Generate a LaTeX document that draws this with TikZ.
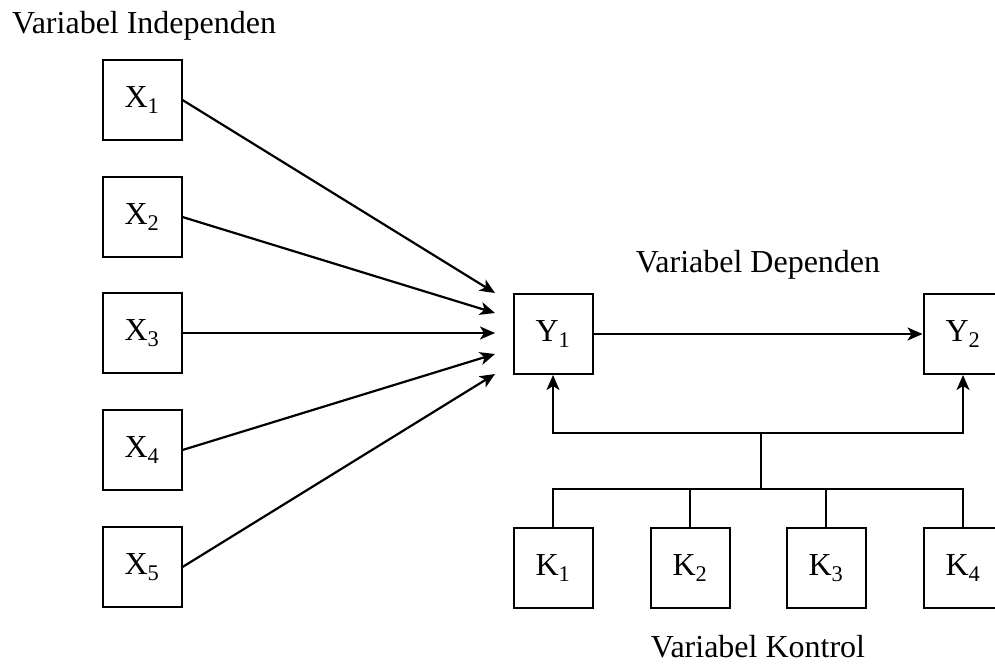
\documentclass[tikz,border=0pt]{standalone}
\usepackage{fontspec}
\setmainfont{Liberation Serif}
\usetikzlibrary{arrows.meta}
\begin{document}
\begin{tikzpicture}[x=1pt,y=-1pt,
    varbox/.style={draw,line width=2pt,minimum width=79pt,minimum height=80pt,inner sep=0pt,font=\fontsize{32}{36}\selectfont},
    link/.style={line width=2.2pt},
    arrow/.style={link,-{Stealth[length=15pt,width=13pt,inset=4pt]}},
    caption/.style={font=\fontsize{32}{36}\selectfont,inner sep=0pt}]
    \clip (0,0) rectangle (995,664);

    \node[caption,anchor=base west] (indep) at (12,33) {Variabel Independen};
    \node[caption,anchor=base] (dep) at (758,272) {Variabel Dependen};
    \node[caption,anchor=base] (kontrol) at (758,657) {Variabel Kontrol};

    % independent variables
    \node[varbox] (x1) at (142,100) {X\textsubscript{1}};
    \node[varbox] (x2) at (142,217) {X\textsubscript{2}};
    \node[varbox] (x3) at (142,333) {X\textsubscript{3}};
    \node[varbox] (x4) at (142,450) {X\textsubscript{4}};
    \node[varbox] (x5) at (142,567) {X\textsubscript{5}};

    % dependent variables
    \node[varbox] (y1) at (553,334) {Y\textsubscript{1}};
    \node[varbox] (y2) at (963,334) {Y\textsubscript{2}};

    % control variables
    \node[varbox] (k1) at (553,568) {K\textsubscript{1}};
    \node[varbox] (k2) at (690,568) {K\textsubscript{2}};
    \node[varbox] (k3) at (826,568) {K\textsubscript{3}};
    \node[varbox] (k4) at (963,568) {K\textsubscript{4}};

    \coordinate (t1) at (495,293);
    \coordinate (t2) at (495,313);
    \coordinate (t3) at (495,333);
    \coordinate (t4) at (495,354);
    \coordinate (t5) at (495,374);

    \draw[arrow] (x1.east) -- (t1);
    \draw[arrow] (x2.east) -- (t2);
    \draw[arrow] (x3.east) -- (t3);
    \draw[arrow] (x4.east) -- (t4);
    \draw[arrow] (x5.east) -- (t5);

    \draw[arrow] (y1.east) -- (y2.west);

    \coordinate (top) at (761,433);
    \coordinate (bot) at (761,489);
    \draw[arrow] (top) -| (y1.south);
    \draw[arrow] (top) -| (y2.south);
    \draw[link] (top) -- (bot);
    \draw[link] (bot) -| (k1.north);
    \draw[link] (bot) -| (k2.north);
    \draw[link] (bot) -| (k3.north);
    \draw[link] (bot) -| (k4.north);
\end{tikzpicture}
\end{document}
